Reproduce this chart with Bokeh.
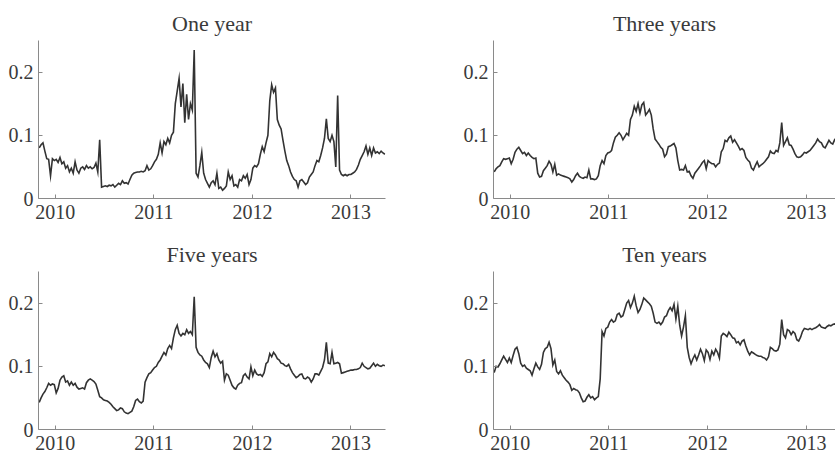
import pandas as pd
from bokeh.plotting import figure
from bokeh.layouts import gridplot
from bokeh.models import Range1d, FixedTicker
from bokeh.embed import file_html
from bokeh.resources import INLINE

# weekly observation dates
start_date = "2009-11-02"
n_weeks = 184

titles = ["One year", "Three years", "Five years", "Ten years"]
year_ticks = [2010, 2011, 2012, 2013]
y_ticks = [0, 0.1, 0.2]
y_tick_labels = ["0", "0.1", "0.2"]

one_year = [
    0.080, 0.085, 0.088, 0.075, 0.063, 0.062, 0.036, 0.063, 0.060, 0.062,
    0.057, 0.065, 0.055, 0.058, 0.048, 0.052, 0.042, 0.048, 0.040, 0.058,
    0.045, 0.040, 0.048, 0.050, 0.046, 0.052, 0.048, 0.050, 0.047, 0.049,
    0.056, 0.042, 0.093, 0.018, 0.019, 0.020, 0.019, 0.021, 0.020, 0.022,
    0.018, 0.021, 0.024, 0.022, 0.028, 0.024, 0.025, 0.023, 0.030, 0.037,
    0.040, 0.041, 0.042, 0.042, 0.043, 0.042, 0.044, 0.052, 0.045, 0.047,
    0.052, 0.058, 0.062, 0.070, 0.088, 0.072, 0.090, 0.085, 0.095, 0.088,
    0.100, 0.105, 0.150, 0.170, 0.190, 0.145, 0.182, 0.120, 0.165, 0.125,
    0.150, 0.140, 0.235, 0.040, 0.034, 0.052, 0.073, 0.040, 0.030, 0.024,
    0.018, 0.025, 0.028, 0.022, 0.040, 0.016, 0.018, 0.013, 0.016, 0.020,
    0.042, 0.030, 0.036, 0.020, 0.022, 0.018, 0.030, 0.028, 0.036, 0.032,
    0.038, 0.022, 0.030, 0.048, 0.052, 0.050, 0.055, 0.070, 0.082, 0.074,
    0.088, 0.100, 0.155, 0.180, 0.168, 0.175, 0.125, 0.116, 0.110, 0.092,
    0.075, 0.060, 0.052, 0.042, 0.035, 0.030, 0.028, 0.018, 0.028, 0.030,
    0.026, 0.022, 0.025, 0.034, 0.038, 0.042, 0.052, 0.060, 0.058, 0.068,
    0.080, 0.095, 0.126, 0.095, 0.090, 0.100, 0.090, 0.050, 0.163, 0.045,
    0.038, 0.036, 0.038, 0.036, 0.038, 0.038, 0.040, 0.042, 0.046, 0.053,
    0.062, 0.068, 0.074, 0.083, 0.070, 0.080, 0.068, 0.080, 0.072, 0.074,
    0.071, 0.075, 0.072, 0.070,
]

three_years = [
    0.042, 0.047, 0.050, 0.052, 0.058, 0.063, 0.062, 0.063, 0.064, 0.055,
    0.062, 0.073, 0.078, 0.081, 0.076, 0.071, 0.073, 0.068, 0.072, 0.068,
    0.065, 0.063, 0.064, 0.040, 0.034, 0.035, 0.044, 0.048, 0.052, 0.059,
    0.054, 0.042, 0.054, 0.037, 0.039, 0.037, 0.036, 0.035, 0.034, 0.033,
    0.031, 0.026, 0.030, 0.036, 0.040, 0.035, 0.033, 0.032, 0.034, 0.033,
    0.045, 0.031, 0.031, 0.030, 0.031, 0.036, 0.052, 0.060, 0.055, 0.068,
    0.072, 0.073, 0.076, 0.088, 0.097, 0.100, 0.104, 0.100, 0.093, 0.098,
    0.103, 0.100, 0.125, 0.132, 0.146, 0.138, 0.150, 0.135, 0.148, 0.152,
    0.132, 0.136, 0.141, 0.132, 0.110, 0.094, 0.090, 0.086, 0.081, 0.078,
    0.066, 0.070, 0.082, 0.083, 0.085, 0.087, 0.080, 0.060, 0.045, 0.046,
    0.045, 0.052, 0.042, 0.043, 0.036, 0.032, 0.040, 0.044, 0.048, 0.052,
    0.057, 0.060, 0.047, 0.060, 0.057, 0.055, 0.055, 0.050, 0.054, 0.056,
    0.074, 0.079, 0.092, 0.090, 0.096, 0.099, 0.089, 0.093, 0.088, 0.083,
    0.077, 0.079, 0.076, 0.065, 0.061, 0.058, 0.048, 0.045, 0.052, 0.058,
    0.050, 0.053, 0.055, 0.058, 0.062, 0.066, 0.075, 0.072, 0.071, 0.076,
    0.074, 0.088, 0.120, 0.084, 0.090, 0.096, 0.085, 0.084, 0.078, 0.071,
    0.066, 0.065, 0.066, 0.069, 0.073, 0.072, 0.074, 0.076, 0.080, 0.084,
    0.088, 0.094, 0.090, 0.088, 0.082, 0.080, 0.086, 0.092, 0.088, 0.086,
    0.093, 0.090, 0.092, 0.094,
]

five_years = [
    0.043, 0.050, 0.056, 0.060, 0.066, 0.073, 0.070, 0.072, 0.071, 0.058,
    0.065, 0.078, 0.083, 0.085, 0.075, 0.077, 0.070, 0.075, 0.070, 0.073,
    0.067, 0.064, 0.065, 0.066, 0.064, 0.074, 0.078, 0.080, 0.078, 0.076,
    0.072, 0.062, 0.052, 0.050, 0.047, 0.046, 0.045, 0.043, 0.040, 0.036,
    0.033, 0.030, 0.031, 0.034, 0.033, 0.028, 0.026, 0.025, 0.027, 0.029,
    0.036, 0.046, 0.048, 0.044, 0.042, 0.045, 0.075, 0.082, 0.088, 0.090,
    0.094, 0.098, 0.100, 0.106, 0.110, 0.116, 0.122, 0.118, 0.128, 0.133,
    0.128, 0.145, 0.158, 0.165, 0.152, 0.148, 0.152, 0.150, 0.158, 0.152,
    0.155, 0.150, 0.210, 0.130, 0.122, 0.118, 0.116, 0.110, 0.106, 0.104,
    0.098, 0.114, 0.124, 0.115, 0.120, 0.110, 0.105, 0.108, 0.078, 0.088,
    0.086, 0.078, 0.070, 0.066, 0.064, 0.070, 0.073, 0.074, 0.085, 0.088,
    0.083, 0.080, 0.099, 0.085, 0.094, 0.088, 0.086, 0.087, 0.084, 0.090,
    0.104, 0.107, 0.120, 0.115, 0.122, 0.118, 0.112, 0.110, 0.105, 0.104,
    0.101, 0.100, 0.103, 0.096, 0.090, 0.086, 0.082, 0.084, 0.087, 0.088,
    0.081, 0.080, 0.083, 0.081, 0.075, 0.080, 0.088, 0.088, 0.086, 0.092,
    0.098, 0.110, 0.138, 0.105, 0.104, 0.122, 0.104, 0.105, 0.106, 0.104,
    0.089, 0.090, 0.091, 0.092, 0.093, 0.094, 0.094, 0.095, 0.095, 0.096,
    0.098, 0.105, 0.100, 0.098, 0.096, 0.097, 0.101, 0.105, 0.100, 0.103,
    0.101, 0.100, 0.102, 0.101,
]

ten_years = [
    0.090, 0.100, 0.099, 0.104, 0.110, 0.116, 0.111, 0.106, 0.113, 0.106,
    0.117, 0.127, 0.130, 0.120, 0.105, 0.100, 0.102, 0.097, 0.095, 0.093,
    0.086, 0.096, 0.105, 0.099, 0.095, 0.103, 0.122, 0.128, 0.130, 0.138,
    0.128, 0.102, 0.110, 0.092, 0.088, 0.093, 0.086, 0.082, 0.078, 0.075,
    0.071, 0.062, 0.065, 0.063, 0.062, 0.058, 0.050, 0.044, 0.045, 0.051,
    0.055, 0.050, 0.052, 0.047, 0.050, 0.052, 0.080, 0.155, 0.148, 0.160,
    0.162, 0.170, 0.174, 0.170, 0.172, 0.182, 0.184, 0.178, 0.180, 0.190,
    0.200, 0.204, 0.193, 0.200, 0.211, 0.196, 0.185, 0.190, 0.198, 0.208,
    0.205, 0.202, 0.199, 0.195, 0.184, 0.170, 0.168, 0.170, 0.166, 0.170,
    0.178, 0.180, 0.188, 0.193, 0.188, 0.198, 0.175, 0.195, 0.165, 0.148,
    0.162, 0.180, 0.130, 0.114, 0.104, 0.112, 0.118, 0.110, 0.118, 0.127,
    0.120, 0.109, 0.126, 0.122, 0.111, 0.124, 0.118, 0.127, 0.122, 0.113,
    0.148, 0.152, 0.150, 0.147, 0.154, 0.150, 0.145, 0.144, 0.137, 0.139,
    0.134, 0.140, 0.142, 0.132, 0.124, 0.118, 0.123, 0.121, 0.119, 0.117,
    0.116, 0.116, 0.114, 0.113, 0.110, 0.115, 0.130, 0.128, 0.125, 0.124,
    0.126, 0.135, 0.174, 0.150, 0.145, 0.158, 0.156, 0.150, 0.155, 0.152,
    0.142, 0.140, 0.146, 0.155, 0.160, 0.159, 0.158, 0.160, 0.158, 0.160,
    0.161, 0.163, 0.166, 0.162, 0.161, 0.160, 0.163, 0.165, 0.164, 0.166,
    0.167, 0.166, 0.168, 0.167,
]

dates = pd.date_range(start_date, periods=n_weeks, freq="7D")
days_in_year = pd.Series(dates.is_leap_year).map({True: 366.0, False: 365.0}).to_numpy()
x_years = dates.year.to_numpy() + (dates.dayofyear.to_numpy() - 0.5) / days_in_year

SERIF = "Liberation Serif"
TEXT = "#3a3a3a"
AXIS = "#8a8a8a"
LINE = "#333333"


def make_panel(title, vals, width, height, b_left, b_right, b_top, b_bottom, x_end):
    p = figure(
        width=width, height=height, title=title,
        x_range=Range1d(2009.83, x_end), y_range=Range1d(0, 0.25),
        output_backend="svg", toolbar_location=None,
        min_border_left=b_left, min_border_right=b_right,
        min_border_top=b_top, min_border_bottom=b_bottom,
    )
    p.line(x_years, vals, line_color=LINE, line_width=1.6, line_join="miter")
    p.title.align = "center"
    p.title.text_font = SERIF
    p.title.text_font_style = "normal"
    p.title.text_font_size = "22px"
    p.title.text_color = TEXT
    p.title.standoff = 10
    p.outline_line_color = None
    p.xgrid.visible = False
    p.ygrid.visible = False
    p.background_fill_color = "white"
    p.border_fill_color = "white"

    p.xaxis.ticker = FixedTicker(ticks=year_ticks)
    p.xaxis.major_label_overrides = {t: str(t) for t in year_ticks}
    p.yaxis.ticker = FixedTicker(ticks=y_ticks)
    p.yaxis.major_label_overrides = dict(zip(y_ticks, y_tick_labels))
    for ax in (p.xaxis, p.yaxis):
        ax.axis_line_color = AXIS
        ax.axis_line_width = 1
        ax.major_tick_line_color = AXIS
        ax.major_tick_in = 4
        ax.major_tick_out = 0
        ax.minor_tick_line_color = None
        ax.major_label_text_font = SERIF
        ax.major_label_text_font_size = "20px"
        ax.major_label_text_color = TEXT
    p.xaxis.major_label_standoff = 6
    p.yaxis.major_label_standoff = 5
    return p


series = [one_year, three_years, five_years, ten_years]
p1 = make_panel(titles[0], series[0], 417, 226, 38, 32, 40, 28, 2013.35)
p2 = make_panel(titles[1], series[1], 418, 226, 76, 0, 40, 28, 2013.295)
p3 = make_panel(titles[2], series[2], 417, 227, 38, 32, 45, 24, 2013.35)
p4 = make_panel(titles[3], series[3], 418, 227, 76, 0, 45, 24, 2013.295)

grid = gridplot([[p1, p2], [p3, p4]], toolbar_location=None)

open("out.html", "w").write(file_html(grid, INLINE))
